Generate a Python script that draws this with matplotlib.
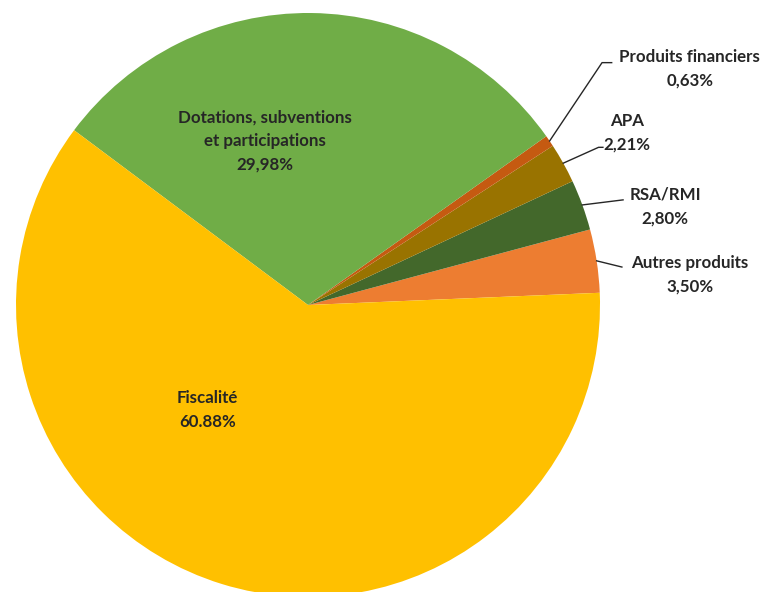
import numpy as np
import matplotlib.pyplot as plt

# slices, counterclockwise from the right
labels = ['Autres produits', 'RSA/RMI', 'APA', 'Produits financiers',
          'Dotations, subventions\net participations', 'Fiscalité']
values = [3.50, 2.80, 2.21, 0.63, 29.98, 60.88]
pct_text = ['3,50%', '2,80%', '2,21%', '0,63%', '29,98%', '60.88%']
colors = ['#ED7D31', '#43682B', '#997300', '#C55A11', '#70AD47', '#FFC000']

plt.rcParams['font.family'] = ['Lato', 'DejaVu Sans']

fig = plt.figure(figsize=(7.7, 5.92), dpi=100)
# axes placed so the pie sits like in the original
ax = fig.add_axes([16 / 770, -5 / 592, 584 / 770, 584 / 592])

start = 2.4
wedges, _ = ax.pie(values, colors=colors, startangle=start, counterclock=True,
                   radius=1, wedgeprops=dict(linewidth=0))
ax.set_xlim(-1, 1)
ax.set_ylim(-1, 1)
ax.set_aspect('equal')
ax.axis('off')
for w in wedges:
    w.set_clip_on(False)

txt = dict(fontsize=12.2, fontweight='bold', color='#262626',
           ha='center', va='center', linespacing=1.6)

# inside labels
ax.text(-0.148, 0.562, labels[4] + '\n' + pct_text[4], **txt)
ax.text(-0.345, -0.36, labels[5] + '\n' + pct_text[5], **txt)

# outside labels: text position and leader end (data coords)
outside = {
    0: ((1.308, 0.103), [(1.075, 0.13)]),
    1: ((1.223, 0.336), [(1.079, 0.36)]),
    2: ((1.092, 0.589), [(0.995, 0.54), (1.01, 0.54)]),
    3: ((1.308, 0.808), [(1.007, 0.83), (1.04, 0.83)]),
}
for i, (tpos, pts) in outside.items():
    w = wedges[i]
    mid = np.deg2rad((w.theta1 + w.theta2) / 2)
    x0, y0 = np.cos(mid), np.sin(mid)
    xs = [x0] + [p[0] for p in pts]
    ys = [y0] + [p[1] for p in pts]
    ax.plot(xs, ys, color='#262626', lw=1.0, clip_on=False)
    ax.text(tpos[0], tpos[1], labels[i] + '\n' + pct_text[i], clip_on=False, **txt)

fig.savefig('out.png', dpi=100)
